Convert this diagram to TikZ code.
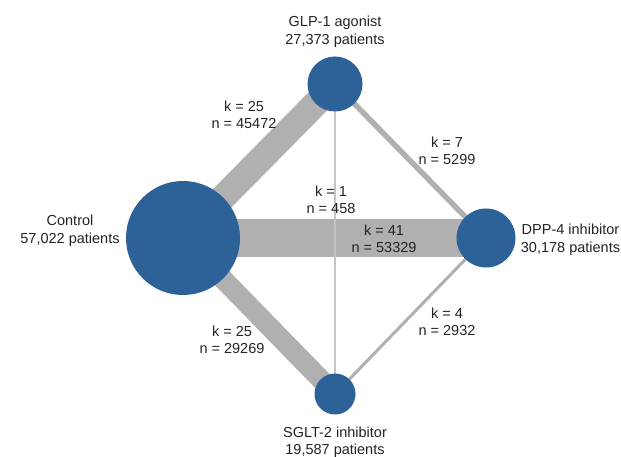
\documentclass[tikz,border=0pt]{standalone}
\usepackage{fontspec}
\setmainfont{Liberation Sans}
\usepackage{tikz}
\usetikzlibrary{positioning}
\pgfdeclarelayer{edgelayer}
\pgfdeclarelayer{nodelayer}
\pgfsetlayers{edgelayer,nodelayer,main}
\definecolor{trtblue}{RGB}{44,98,152}
\definecolor{linkgray}{RGB}{176,176,176}
\definecolor{thingray}{RGB}{194,195,199}
\definecolor{txtgray}{RGB}{35,35,35}
\tikzset{
  trt/.style={circle, fill=trtblue, draw=none, inner sep=0pt},
  lbl/.style={align=center, inner sep=0pt, text=txtgray,
    font=\fontsize{14.5}{17.5}\selectfont},
  link/.style={draw=linkgray, line cap=butt},
}

\begin{document}
\begin{tikzpicture}[x=1pt,y=-1pt]
  \useasboundingbox (0,0) rectangle (621,457);

  % Treatments
  \node[trt, minimum size=114pt] (ctrl) at (183,238) {};
  \node[trt, minimum size=55pt]  (glp)  at (335,84)  {};
  \node[trt, minimum size=59pt]  (dpp)  at (486,238) {};
  \node[trt, minimum size=41pt]  (sglt) at (335,394) {};

  \node[lbl, left=6pt of ctrl, yshift=7pt] (ctrlname) {Control\\57,022 patients};
  \node[lbl, above=9pt of glp]             (glpname)  {GLP-1 agonist\\27,373 patients};
  \node[lbl, right=5pt of dpp, yshift=-2pt] (dppname) {DPP-4 inhibitor\\30,178 patients};
  \node[lbl, below=12pt of sglt]           (sgltname) {SGLT-2 inhibitor\\19,587 patients};

  % Edges
  \begin{pgfonlayer}{edgelayer}
    \draw[link, line width=38pt]  (ctrl.center) -- (dpp.center);
    \draw[link, line width=26pt]  (ctrl.center) -- (glp.center);
    \draw[link, line width=20pt]  (ctrl.center) -- (sglt.center);
    \draw[link, line width=5.5pt] (glp.center) -- (dpp.center);
    \draw[link, line width=3pt]   (sglt.center) -- (dpp.center);
    \draw[draw=thingray, line width=1.5pt] (glp.center) -- (sglt.center);
  \end{pgfonlayer}

  % Edge labels
  \node[lbl] (kcg) at (244,115) {k = 25\\n = 45472};
  \node[lbl] (kgd) at (447,151) {k = 7\\n = 5299};
  \node[lbl] (kgs) at (331,200) {k = 1\\n = 458};
  \node[lbl] (kcd) at (384,239) {k = 41\\n = 53329};
  \node[lbl] (kcs) at (232,340) {k = 25\\n = 29269};
  \node[lbl] (ksd) at (447,322) {k = 4\\n = 2932};

\end{tikzpicture}
\end{document}
